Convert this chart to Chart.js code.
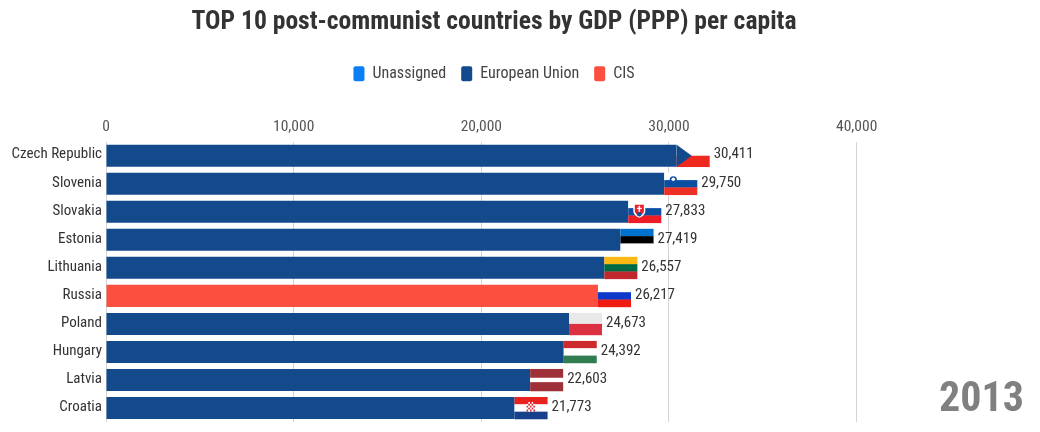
<!DOCTYPE html>
<html><head><meta charset="utf-8">
<style>html,body{margin:0;padding:0;background:#fff}#w{width:1040px;height:432px}</style>
<script src="https://cdn.jsdelivr.net/npm/chart.js@4"></script></head>
<body><div id="w"><canvas id="c" width="1040" height="432"></canvas></div>
<script>
const categories = ['Czech Republic','Slovenia','Slovakia','Estonia','Lithuania','Russia','Poland','Hungary','Latvia','Croatia'];
const unassignedValues = [null,null,null,null,null,null,null,null,null,null];
const euValues = [30411,29750,27833,27419,26557,null,24673,24392,22603,21773];
const cisValues = [null,null,null,null,null,26217,null,null,null,null];
const valueLabels = [30411,29750,27833,27419,26557,26217,24673,24392,22603,21773];
const tickValues = [0,10000,20000,30000,40000];
const flagStripes = [
 ['#ffffff','#ee2a1e'],
 ['#ffffff','#0b4ea2','#ee3124'],
 ['#ffffff','#0b4ea2','#ee1c25'],
 ['#0072ce','#000000','#ffffff'],
 ['#fdb913','#006a44','#c1272d'],
 ['#ffffff','#0b39c8','#f01a10'],
 ['#e9e9e9','#dc3040'],
 ['#cd2a2e','#ffffff','#2f7d50'],
 ['#9e3039','#ffffff','#9e3039'],
 ['#e8231f','#ffffff','#17408b']
];
const yearLabel = '2013';
const FONT = 'Roboto';
const flagWidth = 33;

const flagsPlugin = {
  id:'flags',
  afterDatasetsDraw(chart){
    const {ctx, scales:{x,y}} = chart;
    const barH = 22;
    ctx.save();
    valueLabels.forEach((v,i)=>{
      const x0 = x.getPixelForValue(v), yc = y.getPixelForValue(i), top = yc-barH/2;
      const st = flagStripes[i];
      const weights = i===8 ? [2,1,2] : st.map(()=>1);
      const tot = weights.reduce((a,b)=>a+b,0);
      let yy = top;
      st.forEach((c,k)=>{
        const h = barH*weights[k]/tot;
        ctx.fillStyle=c; ctx.fillRect(x0,yy,flagWidth,h+0.3); yy+=h;
      });
      if(i===0){
        ctx.fillStyle='#134a8c'; ctx.beginPath();
        ctx.moveTo(x0,top); ctx.lineTo(x0+15,yc); ctx.lineTo(x0,top+barH); ctx.closePath(); ctx.fill();
      }
      if(i===1){
        ctx.fillStyle='#0b4ea2'; ctx.beginPath(); ctx.arc(x0+9,top+7,3.6,0,Math.PI*2); ctx.fill();
        ctx.fillStyle='#fff'; ctx.beginPath(); ctx.arc(x0+9,top+6.5,1.8,0,Math.PI*2); ctx.fill();
      }
      if(i===2){
        const sx=x0+11;
        ctx.fillStyle='#fff'; ctx.beginPath(); ctx.moveTo(sx-6,top+3); ctx.lineTo(sx+6,top+3); ctx.lineTo(sx+6,top+11); ctx.quadraticCurveTo(sx+5,top+15,sx,top+17); ctx.quadraticCurveTo(sx-5,top+15,sx-6,top+11); ctx.closePath(); ctx.fill();
        ctx.fillStyle='#ee1c25'; ctx.beginPath(); ctx.moveTo(sx-4.5,top+4); ctx.lineTo(sx+4.5,top+4); ctx.lineTo(sx+4.5,top+11); ctx.quadraticCurveTo(sx+3.5,top+14,sx,top+15.5); ctx.quadraticCurveTo(sx-3.5,top+14,sx-4.5,top+11); ctx.closePath(); ctx.fill();
        ctx.fillStyle='#fff'; ctx.fillRect(sx-0.8,top+5,1.6,6); ctx.fillRect(sx-2.5,top+7,5,1.2);
        ctx.fillStyle='#0b4ea2'; ctx.beginPath(); ctx.arc(sx,top+13.5,2.2,0,Math.PI*2); ctx.fill();
      }
      if(i===9){
        for(let r=0;r<5;r++) for(let c=0;c<5;c++){
          ctx.fillStyle=(r+c)%2?'#fff':'#d8202a';
          ctx.fillRect(x0+12+c*1.7,top+5+r*1.9,1.7,1.9);
        }
      }
      ctx.fillStyle='#333'; ctx.font='condensed 15px '+FONT; ctx.textAlign='left'; ctx.textBaseline='middle';
      ctx.fillText(v.toLocaleString('en-US'), x0+flagWidth+4, yc-1);
    });
    ctx.fillStyle='#808080'; ctx.font='bold condensed 42px '+FONT; ctx.textAlign='right'; ctx.textBaseline='alphabetic';
    ctx.fillText(yearLabel,1024,411);
    ctx.restore();
  }
};

new Chart(document.getElementById('c'),{
  type:'bar',
  data:{labels:categories,datasets:[
    {label:'Unassigned',data:unassignedValues,backgroundColor:'#0a7ff5'},
    {label:'European Union',data:euValues,backgroundColor:'#134a8c'},
    {label:'CIS',data:cisValues,backgroundColor:'#fb5040'}
  ]},
  options:{
    indexAxis:'y',responsive:false,animation:false,
    layout:{padding:{top:7,right:52,bottom:10,left:0}},
    datasets:{bar:{categoryPercentage:1,barPercentage:0.786,borderWidth:0}},
    scales:{
      x:{stacked:true,position:'top',min:0,max:47000,
         grid:{color:'#d4d4d4',drawTicks:false},border:{display:false},
         ticks:{color:'#555',font:{family:FONT,size:15.5,weight:'normal condensed'},padding:5,callback:v=>v.toLocaleString('en-US')},
         afterBuildTicks(s){s.ticks=tickValues.map(v=>({value:v}));},
         afterFit(s){s.height=50;}},
      y:{stacked:true,grid:{display:false,drawTicks:false},border:{display:false},
         ticks:{color:'#333',font:{family:FONT,size:15,weight:'normal condensed'},padding:4,labelOffset:-1},
         afterFit(s){s.width=106;s.paddingTop=0;s.paddingBottom=0;}}
    },
    plugins:{
      title:{display:true,text:'TOP 10 post-communist countries by GDP (PPP) per capita',color:'#333',
             font:{family:FONT,size:25.6,weight:'bold condensed'},padding:{top:0,bottom:13}},
      legend:{display:true,position:'top',labels:{color:'#444',font:{family:FONT,size:16,weight:'normal condensed'},boxWidth:11,boxHeight:15,padding:15,useBorderRadius:true,borderRadius:2}},
      tooltip:{enabled:false}
    }
  },
  plugins:[flagsPlugin]
});
</script></body></html>
